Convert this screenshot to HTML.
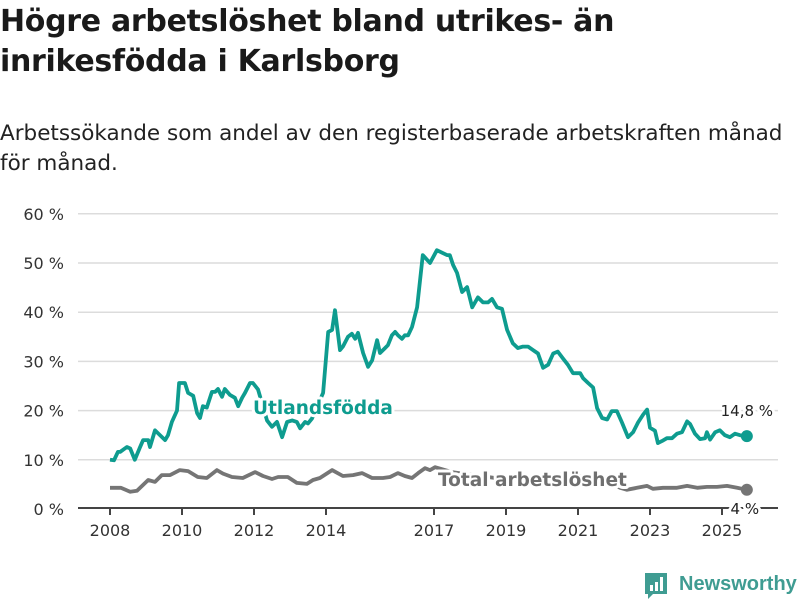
<!DOCTYPE html>
<html><head><meta charset="utf-8">
<style>
body{margin:0;background:#fff;width:800px;height:600px;overflow:hidden;font-family:"Liberation Sans",sans-serif;color:#222}
h1{position:absolute;left:0;top:2px;margin:0;font-family:"DejaVu Sans",sans-serif;font-size:30px;line-height:40px;font-weight:bold;color:#1a1a1a;white-space:nowrap;letter-spacing:-0.3px}
p.sub{position:absolute;left:0;top:119px;margin:0;font-family:"DejaVu Sans",sans-serif;font-size:21.5px;line-height:30px;color:#222;white-space:nowrap}
svg{position:absolute;left:0;top:0}
</style></head><body>
<h1>Högre arbetslöshet bland utrikes- än<br>inrikesfödda i Karlsborg</h1>
<p class="sub">Arbetssökande som andel av den registerbaserade arbetskraften månad<br>för månad.</p>
<svg id="chart" width="800" height="600"></svg>
<script>
const yTicks=[0,10,20,30,40,50,60];
const xTickYears=[2008,2010,2012,2014,2017,2019,2021,2023,2025];
const foreignYears=[2008.0,2008.11,2008.22,2008.28,2008.47,2008.56,2008.69,2008.83,2008.92,2009.06,2009.11,2009.25,2009.39,2009.53,2009.61,2009.72,2009.86,2009.92,2010.08,2010.17,2010.31,2010.42,2010.5,2010.58,2010.69,2010.83,2010.92,2011.0,2011.11,2011.19,2011.33,2011.47,2011.56,2011.67,2011.75,2011.89,2011.97,2012.11,2012.36,2012.5,2012.64,2012.78,2012.92,2013.06,2013.19,2013.28,2013.42,2013.5,2013.61,2013.92,2014.06,2014.17,2014.25,2014.39,2014.47,2014.61,2014.72,2014.81,2014.89,2015.03,2015.17,2015.28,2015.42,2015.5,2015.64,2015.72,2015.83,2015.92,2016.0,2016.11,2016.19,2016.28,2016.39,2016.53,2016.69,2016.89,2017.08,2017.36,2017.44,2017.53,2017.64,2017.78,2017.92,2018.06,2018.22,2018.36,2018.5,2018.61,2018.75,2018.89,2019.03,2019.19,2019.33,2019.47,2019.61,2019.75,2019.89,2020.03,2020.17,2020.31,2020.44,2020.58,2020.72,2020.86,2021.06,2021.14,2021.28,2021.42,2021.53,2021.67,2021.81,2021.94,2022.08,2022.22,2022.39,2022.53,2022.67,2022.81,2022.92,2023.0,2023.14,2023.22,2023.33,2023.47,2023.61,2023.75,2023.89,2024.03,2024.11,2024.25,2024.39,2024.53,2024.58,2024.67,2024.81,2024.94,2025.08,2025.22,2025.36,2025.5,2025.69];
const foreignValues=[10,9.9,11.6,11.6,12.6,12.3,10,12.5,14,14,12.6,16,15,14,15,17.7,20,25.6,25.6,23.6,23,19.5,18.5,20.9,20.6,23.8,23.8,24.4,22.8,24.4,23.2,22.6,20.9,22.6,23.6,25.6,25.6,24.3,18,16.7,17.7,14.6,17.7,18,17.7,16.4,17.7,17.4,18.4,23.6,36,36.4,40.4,32.3,33,35,35.6,34.6,35.8,31.7,28.9,30.2,34.3,31.7,32.7,33.3,35.3,36,35.3,34.6,35.3,35.3,37,41,51.6,50,52.6,51.6,51.6,49.6,48,44.1,45.1,41,43,42,42,42.7,41,40.7,36.4,33.7,32.7,33,33,32.3,31.6,28.7,29.3,31.6,32,30.6,29.3,27.6,27.6,26.6,25.6,24.7,20.5,18.5,18.2,19.9,19.9,17.6,14.6,15.6,17.6,19.2,20.2,16.5,15.9,13.4,13.8,14.4,14.4,15.3,15.6,17.8,17.3,15.3,14.2,14.4,15.6,14.1,15.6,16,15,14.6,15.3,15,14.8];
const totalYears=[2008.0,2008.3,2008.56,2008.75,2009.06,2009.25,2009.44,2009.67,2009.94,2010.17,2010.44,2010.69,2010.97,2011.14,2011.39,2011.69,2012.03,2012.25,2012.5,2012.67,2012.94,2013.19,2013.47,2013.64,2013.83,2014.17,2014.47,2014.75,2015.0,2015.28,2015.58,2015.78,2016.0,2016.19,2016.39,2016.56,2016.75,2016.89,2017.03,2017.5,2018.0,2018.5,2019.0,2019.5,2020.0,2020.5,2021.0,2021.5,2022.0,2022.17,2022.36,2022.64,2022.92,2023.08,2023.36,2023.75,2024.03,2024.31,2024.58,2024.86,2025.14,2025.42,2025.69];
const totalValues=[4.3,4.3,3.5,3.7,5.9,5.5,6.9,6.9,7.9,7.7,6.5,6.3,7.9,7.2,6.5,6.3,7.5,6.7,6.1,6.5,6.5,5.3,5.1,5.9,6.3,7.9,6.7,6.9,7.3,6.3,6.3,6.5,7.3,6.7,6.3,7.3,8.3,7.9,8.5,7.5,7,6.5,6,6,6.5,7,6.8,6,5,4.3,3.9,4.3,4.7,4.1,4.3,4.3,4.7,4.3,4.5,4.5,4.7,4.3,3.9];
const foreignEndLabel="14,8 %";
const totalEndLabel="4 %";

const NS="http://www.w3.org/2000/svg";
const svg=document.getElementById('chart');
const X0=78,X1=778,Y0=509;
const xs=y=>110+(y-2008)*36;
const ys=v=>Y0-v*4.92;
function el(tag,attrs,parent){const e=document.createElementNS(NS,tag);for(const k in attrs)e.setAttribute(k,attrs[k]);(parent||svg).appendChild(e);return e;}

yTicks.forEach(t=>{
  if(t>0){const g=el('line',{x1:X0,x2:X1,y1:ys(t),y2:ys(t),stroke:'#dcdcdc','stroke-width':1.5});
  
  }
  const tx=el('text',{x:64,y:ys(t)+6,'text-anchor':'end','font-size':16,fill:'#333','font-family':'DejaVu Sans, sans-serif'});
  tx.textContent=t+' %';
  
  
});
const ax=el('line',{x1:X0,x2:X1,y1:508,y2:508,stroke:'#444','stroke-width':2});


xTickYears.forEach(y=>{
  const tk=el('line',{x1:xs(y),x2:xs(y),y1:508,y2:515,stroke:'#444','stroke-width':2});
  
  
  const tx=el('text',{x:xs(y),y:536,'text-anchor':'middle','font-size':16,fill:'#333','font-family':'DejaVu Sans, sans-serif'});
  tx.textContent=y;
  
  
});
function path(years,vals){return years.map((y,i)=>(i?'L':'M')+xs(y).toFixed(1)+','+ys(vals[i]).toFixed(1)).join('');}
const tl=el('path',{d:path(totalYears,totalValues),fill:'none',stroke:'#757575','stroke-width':3.8,'stroke-linejoin':'round'});


const fl=el('path',{d:path(foreignYears,foreignValues),fill:'none',stroke:'#0e9c8f','stroke-width':3.8,'stroke-linejoin':'round'});


const n=foreignYears.length-1,m=totalYears.length-1;
const d1=el('circle',{cx:xs(foreignYears[n]),cy:ys(foreignValues[n]),r:6,fill:'#0e9c8f'});


const d2=el('circle',{cx:xs(totalYears[m]),cy:ys(totalValues[m]),r:6,fill:'#757575'});


function label(x,y,txt,size,color,weight,name,anchor){
  const t=el('text',{x:x,y:y,'font-size':size,fill:color,'font-weight':weight,stroke:'#fff','stroke-width':6,'paint-order':'stroke','stroke-linejoin':'round','text-anchor':anchor||'start','font-family':'DejaVu Sans, sans-serif'});
  t.textContent=txt;
  
  
}
label(253,414,'Utlandsfödda',18.5,'#0e9c8f','bold','foreign-born-label');
label(438,486,'Total arbetslöshet',18.5,'#6f6f6f','bold','total-label');
label(xs(foreignYears[n]),ys(foreignValues[n])-20,foreignEndLabel,15,'#222','normal','foreign-born-end-value','middle');
label(xs(totalYears[m])-2,514,totalEndLabel,15,'#222','normal','total-end-value','middle');
const lg=el('g',{});


el('path',{d:'M645,573 h22 v21 h-14 l-5,5 v-5 h-3 z',fill:'#3f9c92'},lg);
el('rect',{x:650,y:585,width:3,height:6,fill:'#fff'},lg);
el('rect',{x:655,y:582,width:3,height:9,fill:'#fff'},lg);
el('rect',{x:660,y:577,width:3,height:14,fill:'#fff'},lg);
const lt=el('text',{x:679,y:590,'font-size':20,fill:'#3f9c92','font-weight':'bold'},lg);
lt.textContent='Newsworthy';
</script>
</body></html>
